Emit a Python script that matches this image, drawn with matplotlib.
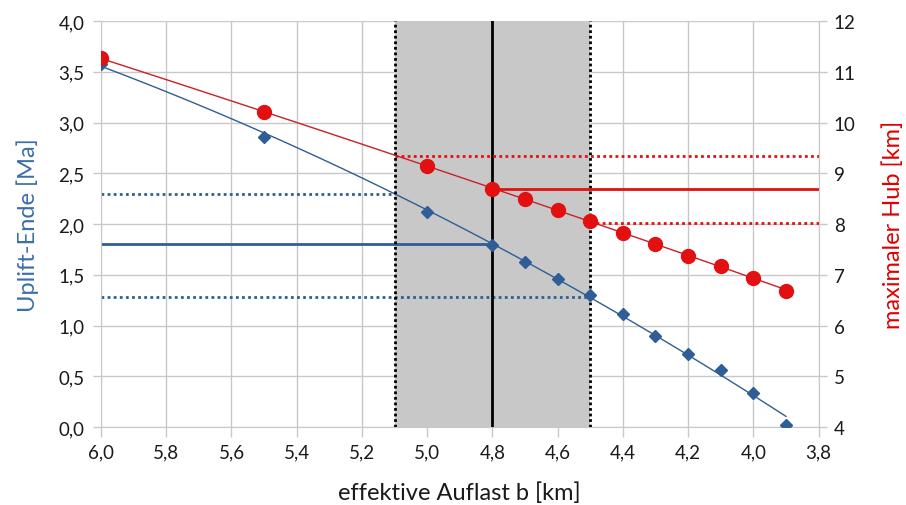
import matplotlib.pyplot as plt
import numpy as np
from matplotlib.ticker import FuncFormatter, MultipleLocator

plt.rcParams["font.family"] = ["Lato", "DejaVu Sans"]

# effektive Auflast b [km]
load_b = [6.0, 5.5, 5.0, 4.8, 4.7, 4.6, 4.5, 4.4, 4.3, 4.2, 4.1, 4.0, 3.9]
# Uplift-Ende [Ma] (left axis)
uplift_end = [3.58, 2.86, 2.12, 1.79, 1.63, 1.46, 1.30, 1.11, 0.90, 0.72, 0.56, 0.34, 0.02]
# maximaler Hub [km] (right axis)
max_hub = [11.27, 10.20, 9.14, 8.70, 8.49, 8.27, 8.06, 7.83, 7.60, 7.38, 7.18, 6.94, 6.68]

# selected range and best estimate
b_low, b_best, b_high = 5.1, 4.8, 4.5
uplift_marks = [2.30, 1.80, 1.28]   # at b_low, b_best, b_high
hub_marks = [9.34, 8.69, 8.03]

BLUE = "#2E5E95"
RED = "#E21010"
GRID = "#C8C8C8"
TEXT = "#1a1a1a"


def comma(v, _pos):
    return f"{v:.1f}".replace(".", ",")


fig = plt.figure(figsize=(9.06, 5.06), dpi=100)
ax = fig.add_axes([0.1115, 0.154, 0.792, 0.8025])
ax2 = ax.twinx()

ax.set_xlim(6.0, 3.8)
ax.set_ylim(0, 4.0)
ax2.set_ylim(4, 12)

ax.axvspan(b_low, b_high, color="#C8C8C8", zorder=0.2, lw=0)
ax.set_axisbelow(True)
ax.grid(True, color=GRID, lw=1)

# trend lines (quadratic fit)
xs = np.linspace(min(load_b), max(load_b), 100)
ax.plot(xs, np.polyval(np.polyfit(load_b, uplift_end, 2), xs), color=BLUE, lw=1, zorder=2)
ax2.plot(xs, np.polyval(np.polyfit(load_b, max_hub, 2), xs), color="#C8202A", lw=1, zorder=2)

# horizontal reference lines
ax.hlines(uplift_marks[0], 6.0, b_low, color=BLUE, lw=2, linestyles=(0, (1, 1.2)), zorder=2)
ax.hlines(uplift_marks[1], 6.0, b_best, color=BLUE, lw=2, zorder=2)
ax.hlines(uplift_marks[2], 6.0, b_high, color=BLUE, lw=2, linestyles=(0, (1, 1.2)), zorder=2)

ax2.hlines(hub_marks[0], b_low, 3.8, color=RED, lw=2, linestyles=(0, (1, 1.2)), zorder=2)
ax2.hlines(hub_marks[1], b_best, 3.8, color=RED, lw=2, zorder=2)
ax2.hlines(hub_marks[2], b_high, 3.8, color=RED, lw=2, linestyles=(0, (1, 1.2)), zorder=2)

# vertical markers for the range
for xv in (b_low, b_high):
    ax.axvline(xv, color="black", lw=2, linestyle=(0, (1, 1)), zorder=3)
ax.axvline(b_best, color="black", lw=2, zorder=3)

ax.plot(load_b, uplift_end, "D", color=BLUE, ms=6.5, zorder=4)
ax2.plot(load_b, max_hub, "o", color=RED, ms=10, zorder=4)

ax.xaxis.set_major_locator(MultipleLocator(0.2))
ax.yaxis.set_major_locator(MultipleLocator(0.5))
ax2.yaxis.set_major_locator(MultipleLocator(1))
ax.xaxis.set_major_formatter(FuncFormatter(comma))
ax.yaxis.set_major_formatter(FuncFormatter(comma))

for a in (ax, ax2):
    for side in a.spines:
        a.spines[side].set_visible(False)
ax.spines["left"].set_visible(True)
ax.spines["left"].set_color(GRID)
ax.spines["bottom"].set_visible(True)
ax.spines["bottom"].set_color(GRID)
ax2.spines["right"].set_visible(True)
ax2.spines["right"].set_color(GRID)

ax.tick_params(axis="x", colors=GRID, labelcolor=TEXT, labelsize=13.5, length=7, width=1, pad=5)
ax.tick_params(axis="y", colors=GRID, labelcolor=TEXT, labelsize=13.5, length=6, width=1, pad=6)
ax2.tick_params(axis="y", colors=GRID, labelcolor=TEXT, labelsize=13.5, length=6, width=1, pad=5)

ax.set_xlabel("effektive Auflast b [km]", fontsize=17, color=TEXT, labelpad=15)
ax.set_ylabel("Uplift-Ende [Ma]", fontsize=17, color="#3B6FA8", labelpad=14)
ax2.set_ylabel("maximaler Hub [km]", fontsize=17, color="#E00000", labelpad=19)

fig.savefig("out.png", dpi=100)
